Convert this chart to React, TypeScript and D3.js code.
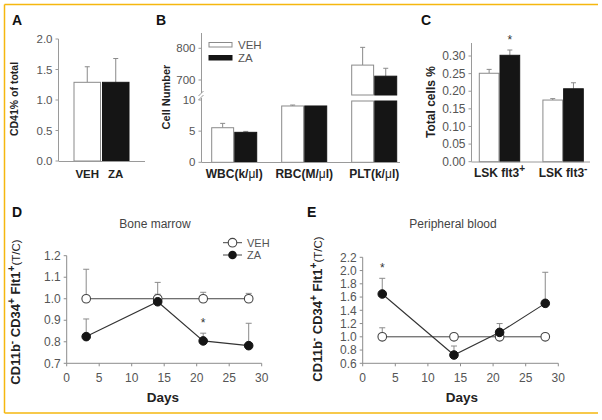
import React from "react";
import * as d3 from "d3";

// ---------- DATA ----------
const aCategories = ["VEH", "ZA"];
const aValues = [1.29, 1.29];
const aErrors = [0.255, 0.39];
const aTicks = [0, 0.5, 1.0, 1.5, 2.0];

const bCategories = ["WBC", "RBC", "PLT"];
const bUnits = ["k/", "M/", "k/"];
const bVeh = [5.55, 9.04, 747];
const bZa = [4.81, 9.04, 712];
const bVehErr = [0.7, 0.15, 56];
const bZaErr = [0.15, 0.08, 25];
const bLowTicks = [0, 5, 10];
const bHighTicks = [700, 800];

const cCategories = ["LSK flt3", "LSK flt3"];
const cSups = ["+", "-"];
const cVeh = [0.251, 0.175];
const cZa = [0.302, 0.207];
const cVehErr = [0.011, 0.004];
const cZaErr = [0.015, 0.017];
const cTicks = [0, 0.05, 0.1, 0.15, 0.2, 0.25, 0.3];

const days = [3, 14, 21, 28];
const dVeh = [1.0, 1.0, 1.0, 1.0];
const dVehErr = [0.137, 0.076, 0.03, 0.025];
const dZa = [0.824, 0.986, 0.804, 0.782];
const dZaErr = [0.082, 0.035, 0.036, 0.104];
const dTicks = [0.7, 0.8, 0.9, 1.0, 1.1, 1.2];

const eVeh = [1.0, 1.0, 1.0, 1.0];
const eVehErr = [0.136, 0, 0.03, 0];
const eZa = [1.646, 0.725, 1.067, 1.505];
const eZaErr = [0.237, 0.136, 0.133, 0.469];
const eTicks = [0.6, 0.8, 1.0, 1.2, 1.4, 1.6, 1.8, 2.0, 2.2];
const dayTicks = [0, 5, 10, 15, 20, 25, 30];

// ---------- STYLE ----------
const FONT = "'Liberation Sans', Arial, Helvetica, sans-serif";
const AXIS = "#9a9a9a";
const TICKTXT = "#555";
const LABEL = "#222";
const BARSTROKE = "#8a8a8a";
const BLACK = "#151515";
const ERR = "#8a8a8a";

function ErrBar({ x, y1, y2, w = 5 }: { x: number; y1: number; y2: number; w?: number }) {
  if (Math.abs(y1 - y2) < 0.5) return null;
  return (
    <g stroke={ERR} strokeWidth={1}>
      <line x1={x} x2={x} y1={y1} y2={y2} />
      <line x1={x - w / 2} x2={x + w / 2} y1={y2} y2={y2} />
    </g>
  );
}

function YTicks({ scale, ticks, x, fmt, size = 11.5, len = 3 }: any) {
  return (
    <g>
      {ticks.map((t: number, i: number) => (
        <g key={i}>
          <line x1={x - len} x2={x} y1={scale(t)} y2={scale(t)} stroke={AXIS} />
          <text x={x - 6} y={scale(t)} dy="0.35em" textAnchor="end" fontSize={size} fill={TICKTXT} fontFamily={FONT}>
            {fmt(t)}
          </text>
        </g>
      ))}
    </g>
  );
}

function PanelA() {
  const y = d3.scaleLinear().domain([0, 2]).range([161, 39]);
  const x = d3.scaleBand().domain(aCategories).range([74, 129]).paddingInner(0.07);
  return (
    <g>
      <text x={12} y={25} fontSize={14} fontWeight="bold" fontFamily={FONT} fill="#111">A</text>
      {aCategories.map((c, i) => (
        <g key={c}>
          <ErrBar x={x(c)! + x.bandwidth() / 2} y1={y(aValues[i])} y2={y(aValues[i] + aErrors[i])} />
          <rect x={x(c)!} y={y(aValues[i])} width={x.bandwidth()} height={y(0) - y(aValues[i])}
            fill={i === 0 ? "#fff" : BLACK} stroke={i === 0 ? BARSTROKE : BLACK} />
          <text x={x(c)! + x.bandwidth() / 2} y={178} textAnchor="middle" fontSize={11.5} fontWeight="bold" fontFamily={FONT} fill={LABEL}>{c}</text>
        </g>
      ))}
      <line x1={58.5} x2={58.5} y1={39} y2={161} stroke={AXIS} />
      <line x1={58.5} x2={145} y1={161.5} y2={161.5} stroke={AXIS} />
      <YTicks scale={y} ticks={aTicks} x={58.5} fmt={d3.format(".1f")} />
      <text transform="translate(17.5,99) rotate(-90)" textAnchor="middle" fontSize={10.5} fontWeight="bold" fontFamily={FONT} fill={LABEL}>CD41% of total</text>
    </g>
  );
}

function PanelB() {
  const yLow = d3.scaleLinear().domain([0, 10]).range([162.3, 100]);
  const yHigh = d3.scaleLinear().domain([700, 800]).range([80, 48.3]);
  const breakTop = 95;
  const x0 = d3.scaleBand().domain(bCategories).range([211.7, 396.7]).paddingInner(0.357).paddingOuter(0);
  const x1 = d3.scaleBand().domain(["VEH", "ZA"]).range([0, x0.bandwidth()]).paddingInner(0.05);
  const ax = 201.5;
  const barTop = (v: number) => (v > 10 ? yHigh(v) : yLow(v));
  return (
    <g>
      <text x={156} y={25} fontSize={14} fontWeight="bold" fontFamily={FONT} fill="#111">B</text>
      {bCategories.map((c, i) => {
        const vals = [bVeh[i], bZa[i]];
        const errs = [bVehErr[i], bZaErr[i]];
        return (
          <g key={c}>
            {["VEH", "ZA"].map((s, j) => {
              const bx = x0(c)! + x1(s)!;
              const w = x1.bandwidth();
              const v = vals[j];
              const fill = j === 0 ? "#fff" : BLACK;
              const stroke = j === 0 ? BARSTROKE : BLACK;
              return (
                <g key={s}>
                  <ErrBar x={bx + w / 2} y1={barTop(v)} y2={barTop(v + errs[j])} />
                  {v > 10 ? (
                    <g>
                      <rect x={bx} y={yHigh(v)} width={w} height={breakTop - yHigh(v)} fill={fill} stroke={stroke} />
                      <rect x={bx} y={yLow(10) + 1} width={w} height={yLow(0) - yLow(10) - 1} fill={fill} stroke={stroke} />
                    </g>
                  ) : (
                    <rect x={bx} y={yLow(v)} width={w} height={yLow(0) - yLow(v)} fill={fill} stroke={stroke} />
                  )}
                </g>
              );
            })}
            <text x={x0(c)! + x0.bandwidth() / 2} y={178} textAnchor="middle" fontSize={12} fontWeight="bold" fontFamily={FONT} fill={LABEL}>
              {c}({bUnits[i]}<tspan fontWeight="normal">μ</tspan>l)
            </text>
          </g>
        );
      })}
      <line x1={ax} x2={ax} y1={33} y2={93} stroke={AXIS} />
      <line x1={ax} x2={ax} y1={98} y2={162.3} stroke={AXIS} />
      <line x1={ax - 3} x2={ax + 2} y1={96} y2={91} stroke={AXIS} />
      <line x1={ax - 3} x2={ax + 2} y1={100} y2={95} stroke={AXIS} />
      <line x1={ax} x2={400} y1={162.5} y2={162.5} stroke={AXIS} />
      <YTicks scale={yLow} ticks={bLowTicks} x={ax} fmt={d3.format("d")} />
      <YTicks scale={yHigh} ticks={bHighTicks} x={ax} fmt={d3.format("d")} />
      <text transform="translate(169.5,97) rotate(-90)" textAnchor="middle" fontSize={11} fontWeight="bold" fontFamily={FONT} fill={LABEL}>Cell Number</text>
      {/* legend */}
      <rect x={209} y={42.5} width={23} height={4.5} fill="#fff" stroke={BARSTROKE} />
      <text x={238} y={44.8} dy="0.35em" fontSize={11.5} fontFamily={FONT} fill={TICKTXT}>VEH</text>
      <rect x={209} y={55.5} width={23} height={4.5} fill={BLACK} stroke={BLACK} />
      <text x={238} y={57.8} dy="0.35em" fontSize={11.5} fontFamily={FONT} fill={TICKTXT}>ZA</text>
    </g>
  );
}

function PanelC() {
  const y = d3.scaleLinear().domain([0, 0.3]).range([161.7, 56]);
  const x0 = d3.scaleBand().domain(["p", "m"]).range([479.3, 583.3]).paddingInner(0.365).paddingOuter(0);
  const x1 = d3.scaleBand().domain(["VEH", "ZA"]).range([0, x0.bandwidth()]).paddingInner(0.05);
  const keys = ["p", "m"];
  const ax = 471.5;
  return (
    <g>
      <text x={421} y={25} fontSize={14} fontWeight="bold" fontFamily={FONT} fill="#111">C</text>
      {keys.map((k, i) => {
        const vals = [cVeh[i], cZa[i]];
        const errs = [cVehErr[i], cZaErr[i]];
        return (
          <g key={k}>
            {["VEH", "ZA"].map((s, j) => {
              const bx = x0(k)! + x1(s)!;
              const w = x1.bandwidth();
              return (
                <g key={s}>
                  <ErrBar x={bx + w / 2} y1={y(vals[j])} y2={y(vals[j] + errs[j])} />
                  <rect x={bx} y={y(vals[j])} width={w} height={y(0) - y(vals[j])}
                    fill={j === 0 ? "#fff" : BLACK} stroke={j === 0 ? BARSTROKE : BLACK} />
                </g>
              );
            })}
            <text x={x0(k)! + x0.bandwidth() / 2} y={177} textAnchor="middle" fontSize={12} fontWeight="bold" fontFamily={FONT} fill={LABEL}>
              {cCategories[i]}<tspan dy={-5} fontSize={10}>{cSups[i]}</tspan>
            </text>
          </g>
        );
      })}
      <text x={x0("p")! + x1("ZA")! + x1.bandwidth() / 2} y={44} textAnchor="middle" fontSize={12} fontFamily={FONT} fill="#333">*</text>
      <line x1={ax} x2={ax} y1={43} y2={161.7} stroke={AXIS} />
      <line x1={ax} x2={590} y1={162} y2={162} stroke={AXIS} />
      <YTicks scale={y} ticks={cTicks} x={ax} fmt={d3.format(".2f")} size={12} />
      <text transform="translate(434.5,102) rotate(-90)" textAnchor="middle" fontSize={12} fontWeight="bold" fontFamily={FONT} fill={LABEL}>Total cells %</text>
    </g>
  );
}

function LinePanel({ label, title, lx, titleX, xr, yr, ydom, yTicks, veh, vehErr, za, zaErr, stars, legend, ylabX, ylabY, daysX }: any) {
  const x = d3.scaleLinear().domain([0, 30]).range(xr);
  const y = d3.scaleLinear().domain(ydom).range(yr);
  const line = d3.line<number>().x((_, i) => x(days[i])).y((v) => y(v));
  const LAX = "#8c8c8c";
  return (
    <g>
      <text x={lx} y={217} fontSize={14} fontWeight="bold" fontFamily={FONT} fill="#111">{label}</text>
      <text x={titleX} y={228} textAnchor="middle" fontSize={12} fontFamily={FONT} fill="#444">{title}</text>
      <line x1={xr[0]} x2={xr[0]} y1={yr[1]} y2={yr[0]} stroke={LAX} />
      <line x1={xr[0]} x2={xr[1]} y1={yr[0]} y2={yr[0]} stroke={LAX} />
      {yTicks.map((t: number, i: number) => (
        <g key={i}>
          <line x1={xr[0] - 3} x2={xr[0]} y1={y(t)} y2={y(t)} stroke={LAX} />
          <text x={xr[0] - 6} y={y(t)} dy="0.35em" textAnchor="end" fontSize={12} fontFamily={FONT} fill={TICKTXT}>{d3.format(".1f")(t)}</text>
        </g>
      ))}
      {dayTicks.map((t: number, i: number) => (
        <g key={i}>
          <line x1={x(t)} x2={x(t)} y1={yr[0]} y2={yr[0] + 3} stroke={LAX} />
          <text x={x(t)} y={382} textAnchor="middle" fontSize={12} fontFamily={FONT} fill={TICKTXT}>{t}</text>
        </g>
      ))}
      <text x={daysX} y={402} textAnchor="middle" fontSize={13.5} fontWeight="bold" fontFamily={FONT} fill={LABEL}>Days</text>
      <text transform={`translate(${ylabX},${ylabY}) rotate(-90)`} textAnchor="middle" fontSize={13} fontWeight="bold" fontFamily={FONT} fill={LABEL}>
        CD11b<tspan dy={-5} fontSize={10}>-</tspan><tspan dy={5}> CD34</tspan><tspan dy={-5} fontSize={10}>+</tspan><tspan dy={5}> Flt1</tspan><tspan dy={-5} fontSize={10}>+</tspan><tspan dy={5} fontWeight="normal" fontSize={11.5}>(T/C)</tspan>
      </text>
      {days.map((d: number, i: number) => (
        <g key={"e" + i}>
          <ErrBar x={x(d)} y1={y(veh[i])} y2={y(veh[i] + vehErr[i])} w={6} />
          <ErrBar x={x(d)} y1={y(za[i])} y2={y(za[i] + zaErr[i])} w={6} />
        </g>
      ))}
      <path d={line(veh)!} fill="none" stroke="#444" strokeWidth={1} />
      <path d={line(za)!} fill="none" stroke="#333" strokeWidth={1.1} />
      {days.map((d: number, i: number) => (
        <circle key={"v" + i} cx={x(d)} cy={y(veh[i])} r={4.3} fill="#fff" stroke="#444" strokeWidth={1.1} />
      ))}
      {days.map((d: number, i: number) => (
        <circle key={"z" + i} cx={x(d)} cy={y(za[i])} r={4.3} fill={BLACK} stroke={BLACK} />
      ))}
      {stars.map((si: number) => (
        <text key={"s" + si} x={x(days[si])} y={y(za[si] + zaErr[si]) - 6} textAnchor="middle" fontSize={12} fontFamily={FONT} fill="#333">*</text>
      ))}
      {legend && (
        <g>
          <line x1={223} x2={242} y1={242.7} y2={242.7} stroke="#444" />
          <circle cx={232.5} cy={242.7} r={4.3} fill="#fff" stroke="#444" strokeWidth={1.1} />
          <text x={247} y={242.7} dy="0.35em" fontSize={11} fontFamily={FONT} fill={TICKTXT}>VEH</text>
          <line x1={223} x2={242} y1={255} y2={255} stroke="#444" />
          <circle cx={232.5} cy={255} r={4.3} fill={BLACK} />
          <text x={247} y={255} dy="0.35em" fontSize={11} fontFamily={FONT} fill={TICKTXT}>ZA</text>
        </g>
      )}
    </g>
  );
}

export default function App() {
  const BORDER = "#f5b70f";
  return (
    <svg width={602} height={420} style={{ position: "absolute", left: 0, top: 0, background: "#fff" }} fontFamily={FONT}>
      <rect width={602} height={420} fill="#fff" />
      <line x1={4.5} x2={598} y1={4.5} y2={4.5} stroke={BORDER} strokeWidth={1.5} />
      <line x1={4.5} x2={4.5} y1={4.5} y2={413} stroke={BORDER} strokeWidth={1.5} />
      <line x1={4.5} x2={598} y1={413} y2={413} stroke={BORDER} strokeWidth={1.5} />
      <PanelA />
      <PanelB />
      <PanelC />
      <LinePanel label="D" title="Bone marrow" lx={12} titleX={155} xr={[66.7, 261.7]} yr={[363.3, 255.7]} ydom={[0.7, 1.2]}
        yTicks={dTicks} veh={dVeh} vehErr={dVehErr} za={dZa} zaErr={dZaErr} stars={[2]} legend={true}
        ylabX={20} ylabY={312} daysX={163} />
      <LinePanel label="E" title="Peripheral blood" lx={307} titleX={453} xr={[362.7, 558.3]} yr={[363.3, 257.3]} ydom={[0.6, 2.2]}
        yTicks={eTicks} veh={eVeh} vehErr={eVehErr} za={eZa} zaErr={eZaErr} stars={[0]} legend={false}
        ylabX={321.5} ylabY={309} daysX={462} />
    </svg>
  );
}
